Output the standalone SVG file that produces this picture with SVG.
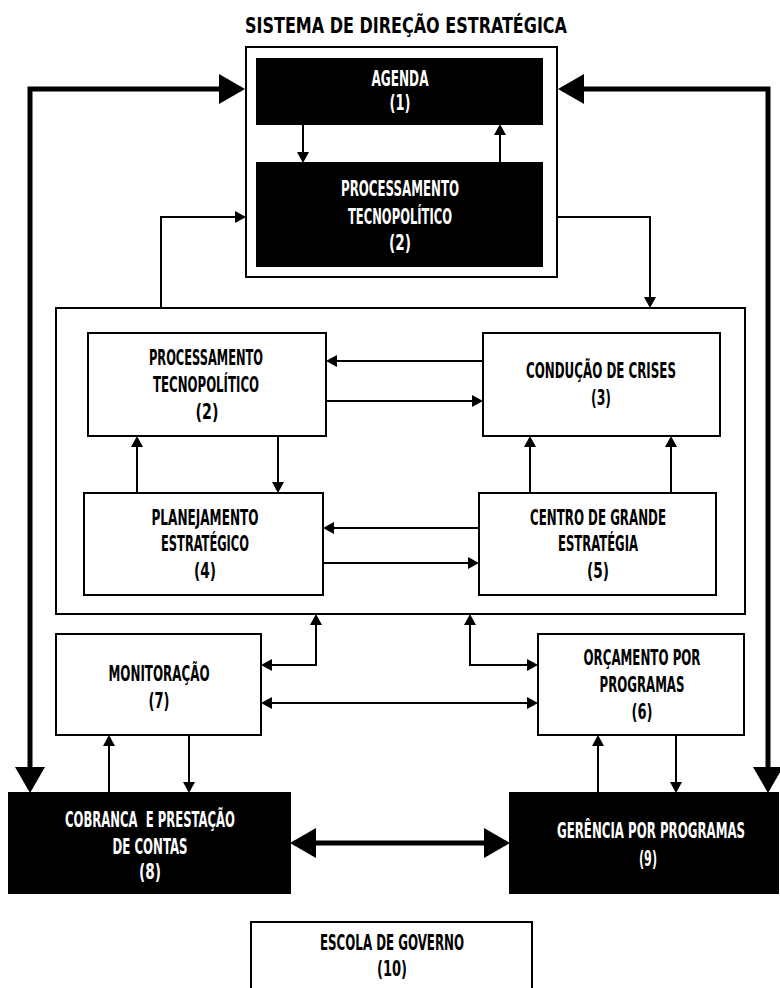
<svg xmlns="http://www.w3.org/2000/svg" width="780" height="988" viewBox="0 0 780 988">
<style>
text{font-family:"DejaVu Sans Condensed","DejaVu Sans",sans-serif;font-stretch:condensed;font-weight:bold;font-size:21px;text-anchor:middle;fill:#000}
.w{fill:#fff}
.title{font-size:22px}
.box{fill:#fff;stroke:#000;stroke-width:2}
.blk{fill:#000;stroke:#000;stroke-width:2}
.c{fill:none;stroke:#000;stroke-width:2}
.t{fill:none;stroke:#000;stroke-width:5}
.a{marker-end:url(#ah)}
.aa{marker-start:url(#ah);marker-end:url(#ah)}
.bb{marker-start:url(#bh);marker-end:url(#bh)}
</style>
<defs>
<marker id="ah" markerUnits="userSpaceOnUse" markerWidth="12" markerHeight="13" refX="9" refY="6" orient="auto-start-reverse" viewBox="0 0 12 12"><path d="M0,0 L11,6 L0,12 z" fill="#000"/></marker>
<marker id="bh" markerUnits="userSpaceOnUse" markerWidth="27" markerHeight="31" refX="22" refY="15" orient="auto-start-reverse" viewBox="0 0 27 30"><path d="M0,0 L26,15 L0,30 z" fill="#000"/></marker>
</defs>
<rect width="780" height="988" fill="#fff"/>
<text class="title" x="406" y="33" textLength="322" lengthAdjust="spacingAndGlyphs">SISTEMA DE DIREÇÃO ESTRATÉGICA</text>

<g id="sistema-direcao">
<rect class="box" x="246" y="47" width="311" height="230"/>
</g>
<g id="agenda">
<rect class="blk" x="257" y="59" width="285" height="65"/>
<text class="w" x="400" y="86" textLength="57" lengthAdjust="spacingAndGlyphs">AGENDA</text>
<text class="w" x="400" y="110" textLength="21" lengthAdjust="spacingAndGlyphs">(1)</text>
</g>
<g id="processamento-top">
<rect class="blk" x="257" y="163" width="285" height="103"/>
<text class="w" x="400" y="196" textLength="118" lengthAdjust="spacingAndGlyphs">PROCESSAMENTO</text>
<text class="w" x="400" y="224" textLength="104" lengthAdjust="spacingAndGlyphs">TECNOPOLÍTICO</text>
<text class="w" x="400" y="250" textLength="22" lengthAdjust="spacingAndGlyphs">(2)</text>
</g>
<g id="nucleo">
<rect class="box" x="56" y="308" width="689" height="306"/>
</g>
<g id="processamento">
<rect class="box" x="88" y="333" width="238" height="103"/>
<text x="206" y="365" textLength="114" lengthAdjust="spacingAndGlyphs">PROCESSAMENTO</text>
<text x="206" y="392" textLength="106" lengthAdjust="spacingAndGlyphs">TECNOPOLÍTICO</text>
<text x="207" y="419" textLength="23" lengthAdjust="spacingAndGlyphs">(2)</text>
</g>
<g id="conducao">
<rect class="box" x="483" y="333" width="237" height="103"/>
<text x="601" y="378" textLength="150" lengthAdjust="spacingAndGlyphs">CONDUÇÃO DE CRISES</text>
<text x="601" y="405" textLength="20" lengthAdjust="spacingAndGlyphs">(3)</text>
</g>
<g id="planejamento">
<rect class="box" x="84" y="493" width="239" height="102"/>
<text x="205" y="525" textLength="107" lengthAdjust="spacingAndGlyphs">PLANEJAMENTO</text>
<text x="205" y="551" textLength="88" lengthAdjust="spacingAndGlyphs">ESTRATÉGICO</text>
<text x="205" y="578" textLength="22" lengthAdjust="spacingAndGlyphs">(4)</text>
</g>
<g id="centro">
<rect class="box" x="479" y="493" width="237" height="102"/>
<text x="598" y="525" textLength="136" lengthAdjust="spacingAndGlyphs">CENTRO DE GRANDE</text>
<text x="598" y="551" textLength="80" lengthAdjust="spacingAndGlyphs">ESTRATÉGIA</text>
<text x="598" y="578" textLength="22" lengthAdjust="spacingAndGlyphs">(5)</text>
</g>
<g id="monitoracao">
<rect class="box" x="56" y="634" width="205" height="101"/>
<text x="159" y="681" textLength="101" lengthAdjust="spacingAndGlyphs">MONITORAÇÃO</text>
<text x="159" y="708" textLength="21" lengthAdjust="spacingAndGlyphs">(7)</text>
</g>
<g id="orcamento">
<rect class="box" x="538" y="634" width="206" height="101"/>
<text x="642" y="665" textLength="117" lengthAdjust="spacingAndGlyphs">ORÇAMENTO POR</text>
<text x="642" y="692" textLength="85" lengthAdjust="spacingAndGlyphs">PROGRAMAS</text>
<text x="642" y="719" textLength="21" lengthAdjust="spacingAndGlyphs">(6)</text>
</g>
<g id="cobranca">
<rect class="blk" x="9" y="793" width="281" height="100"/>
<text class="w" x="150" y="827" textLength="170" lengthAdjust="spacingAndGlyphs" xml:space="preserve">COBRANCA  E PRESTAÇÃO</text>
<text class="w" x="150" y="854" textLength="75" lengthAdjust="spacingAndGlyphs">DE CONTAS</text>
<text class="w" x="150" y="879" textLength="22" lengthAdjust="spacingAndGlyphs">(8)</text>
</g>
<g id="gerencia">
<rect class="blk" x="510" y="793" width="268" height="100"/>
<text class="w" transform="translate(651,838) scale(0.7,1)" x="0" y="0" textLength="268.6" lengthAdjust="spacingAndGlyphs">GERÊNCIA POR PROGRAMAS</text>
<text class="w" x="648" y="866" textLength="18" lengthAdjust="spacingAndGlyphs">(9)</text>
</g>
<g id="escola">
<path class="box" d="M251,992 V922 H532 V992"/>
<text x="392" y="950" textLength="144" lengthAdjust="spacingAndGlyphs">ESCOLA DE GOVERNO</text>
<text x="392" y="976" textLength="30" lengthAdjust="spacingAndGlyphs">(10)</text>
</g>

<g id="connectors">
<path class="t bb" d="M30,789 V89 H241"/>
<path class="t bb" d="M768,789 V89 H562"/>
<path class="t bb" d="M294,843 H506"/>
<path class="c a" d="M303,124 V161"/>
<path class="c a" d="M500,163 V126"/>
<path class="c a" d="M161,308 V217 H244"/>
<path class="c a" d="M557,217 H650 V306"/>
<path class="c a" d="M483,361 H328"/>
<path class="c a" d="M326,401 H481"/>
<path class="c a" d="M137,493 V438"/>
<path class="c a" d="M278,436 V491"/>
<path class="c a" d="M479,528 H325"/>
<path class="c a" d="M323,563 H477"/>
<path class="c a" d="M530,493 V438"/>
<path class="c a" d="M671,493 V438"/>
<path class="c aa" d="M263,665 H316 V616"/>
<path class="c aa" d="M470,616 V665 H536"/>
<path class="c aa" d="M263,703 H536"/>
<path class="c a" d="M109,793 V737"/>
<path class="c a" d="M189,735 V791"/>
<path class="c a" d="M598,793 V737"/>
<path class="c a" d="M676,735 V791"/>
</g>
</svg>
